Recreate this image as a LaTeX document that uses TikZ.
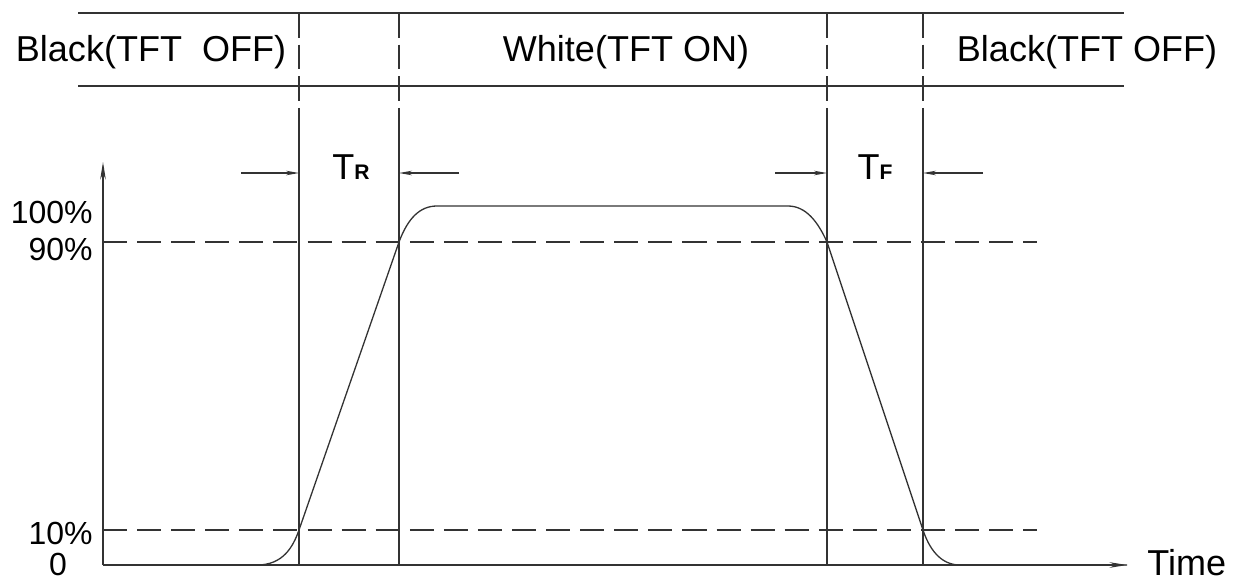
\documentclass[tikz,border=0pt]{standalone}
\usepackage{fontspec}
\setmainfont{Liberation Sans}
\usetikzlibrary{arrows.meta}
\tikzset{
  every node/.style={inner sep=0pt},
  thinline/.style={line width=0.74pt,draw=black!80},
  gridline/.style={thinline,dash pattern=on 13.7pt off 5.7pt},
  markline/.style={thinline,dash pattern=on 14pt off 4pt},
  dimarrow/.style={thinline,->,>={Stealth[length=7.4pt,width=2.6pt]}},
  axisarrow/.style={thinline,->,>={Stealth[length=10pt,width=3.2pt]}},
  bigtext/.style={font=\fontsize{20.5}{24}\selectfont},
  tictext/.style={font=\fontsize{18.2}{21}\selectfont},
}
\begin{document}
\begin{tikzpicture}[x=0.02cm,y=-0.02cm]
  \useasboundingbox (0,0) rectangle (1244,582);
  % state band
  \coordinate (bandtl) at (78,13);
  \coordinate (bandtr) at (1124,13);
  \coordinate (bandbl) at (78,86);
  \coordinate (bandbr) at (1124,86);
  \draw[thinline] (bandtl)--(bandtr);
  \draw[thinline] (bandbl)--(bandbr);
  \node[bigtext] (offleft) at (151,52) {Black(TFT\ \ OFF)};
  \node[bigtext] (onmid) at (626,52) {White(TFT ON)};
  \node[bigtext] (offright) at (1087,52) {Black(TFT OFF)};
  % axes
  \coordinate (orig) at (103,565);
  \coordinate (ytip) at (103,162);
  \coordinate (xtip) at (1127,565);
  \draw[axisarrow] (orig)--(ytip);
  \draw[axisarrow] (orig)--(xtip);
  \node[bigtext,anchor=west] (time) at (1147,563) {Time};
  % markers
  \foreach \x/\n in {299/a,399/b,827/c,923/d}{
    \coordinate (top\n) at (\x,13);
    \coordinate (mid\n) at (\x,130);
    \coordinate (bot\n) at (\x,565);
    \draw[markline] (top\n)--(mid\n);
    \draw[thinline] (mid\n)--(bot\n);
  }
  % levels
  \coordinate (lvl90) at (103,242);
  \coordinate (lvl10) at (103,530);
  \draw[gridline] (lvl90)--(1037,242);
  \draw[gridline] (lvl10)--(1037,530);
  \node[tictext,anchor=east] (p100) at (93,212) {100\%};
  \node[tictext,anchor=east] (p90) at (93,249) {90\%};
  \node[tictext,anchor=east] (p10) at (93,533) {10\%};
  \node[tictext] (p0) at (58,564) {0};
  % response
  \draw[thinline] (orig)--(257,565) .. controls (283,565) and (293,547) .. (299,530)
    --(399,242) .. controls (408,218) and (420,206) .. (437,206)
    --(788,206) .. controls (806,206) and (818,222) .. (827,242)
    --(923,530) .. controls (929,548) and (940,565) .. (960,565)--(xtip);
  % rise / fall
  \coordinate (trl) at (241,173);
  \coordinate (trr) at (459,173);
  \coordinate (tfl) at (775,173);
  \coordinate (tfr) at (983,173);
  \draw[dimarrow] (trl)--(trl-|bota);
  \draw[dimarrow] (trr)--(trr-|botb);
  \draw[dimarrow] (tfl)--(tfl-|botc);
  \draw[dimarrow] (tfr)--(tfr-|botd);
  \node[bigtext,anchor=base] (trise) at (351,179) {T{\fontsize{12}{14}\selectfont\bfseries R}};
  \node[bigtext,anchor=base] (tfall) at (875,179) {T{\fontsize{12}{14}\selectfont\bfseries F}};
\end{tikzpicture}
\end{document}
